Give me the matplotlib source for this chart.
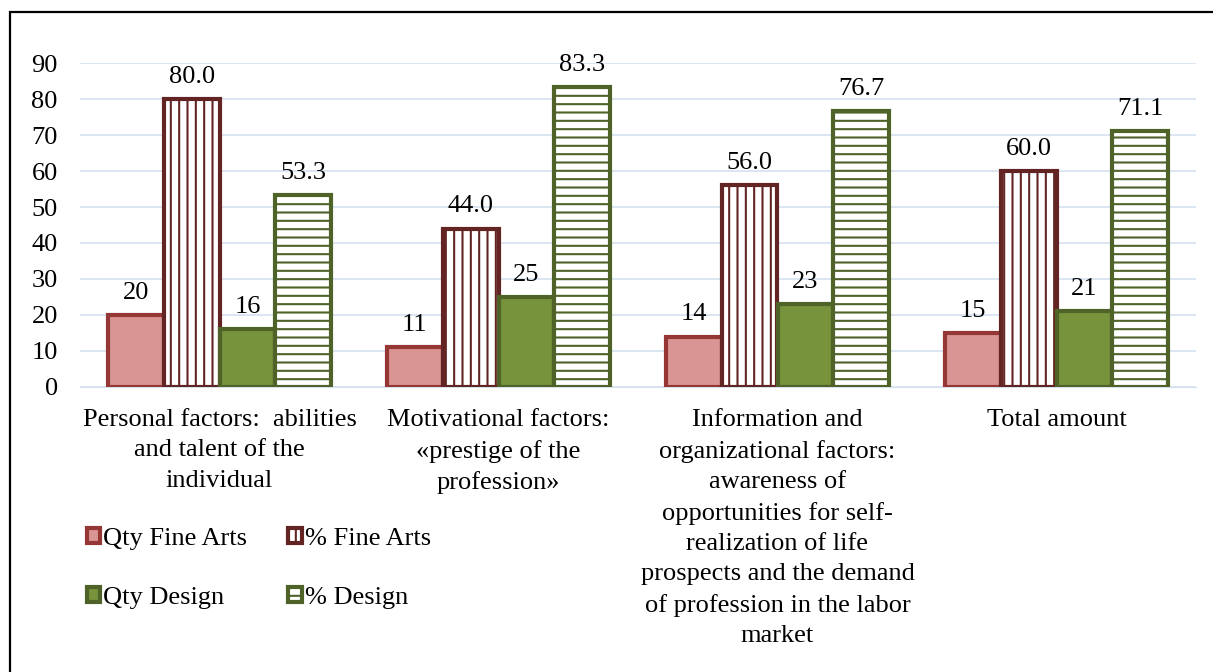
import numpy as np
import matplotlib
matplotlib.use("Agg")
import matplotlib.pyplot as plt
from matplotlib.patches import Rectangle

categories = [
    "Personal factors:  abilities\nand talent of the\nindividual",
    "Motivational factors:\n«prestige of the\nprofession»",
    "Information and\norganizational factors:\nawareness of\nopportunities for self-\nrealization of life\nprospects and the demand\nof profession in the labor\nmarket",
    "Total amount",
]
qty_fine_arts = [20, 11, 14, 15]
pct_fine_arts = [80.0, 44.0, 56.0, 60.0]
qty_design = [16, 25, 23, 21]
pct_design = [53.3, 83.3, 76.7, 71.1]
yticks = list(range(0, 91, 10))

plt.rcParams['font.family'] = ['Liberation Serif', 'DejaVu Serif']
plt.rcParams['font.size'] = 19
plt.rcParams['hatch.linewidth'] = 1.5

fig = plt.figure(figsize=(12.13, 6.72), dpi=100)
ax = fig.add_axes([80/1213, 1-387/672, (1196-80)/1213, (387-63)/672])

x = np.arange(len(categories))
w = 0.2
series = [
    (qty_fine_arts, "Qty Fine Arts", "#D99594", "#953735", None, "{:.0f}"),
    (pct_fine_arts, "% Fine Arts", "white", "#632523", "||", "{:.1f}"),
    (qty_design, "Qty Design", "#77933C", "#4F6228", None, "{:.0f}"),
    (pct_design, "% Design", "white", "#4F6228", "--", "{:.1f}"),
]
handles = []
for i, (vals, name, fc, ec, hatch, fmt) in enumerate(series):
    pos = x + (i - 1.5) * w
    bars = ax.bar(pos, vals, w, color=fc, edgecolor=ec, hatch=hatch,
                  linewidth=3, label=name, zorder=3)
    handles.append(bars)
    for xp, v in zip(pos, vals):
        ax.annotate(fmt.format(v), (xp, v), xytext=(0, 8), textcoords="offset points",
                    ha="center", va="bottom", fontsize=19)

ax.set_xlim(-0.5, 3.5)
ax.set_ylim(0, 90)
ax.set_yticks(yticks)
ax.set_xticks(x)
ax.set_xticklabels(categories, linespacing=1.48, va="top")
ax.tick_params(axis="both", length=0, labelsize=19)
ax.tick_params(axis="x", pad=16)
ax.tick_params(axis="y", pad=16)
ax.grid(axis="y", color="#D6E1F0", linewidth=1.2, zorder=0)
for s in ["top", "right", "left"]:
    ax.spines[s].set_visible(False)
ax.spines["bottom"].set_color("#D6E1F0")

order = [0, 2, 1, 3]
leg = fig.legend([handles[i] for i in order], [series[i][1] for i in order],
                 ncol=2, loc="upper left", bbox_to_anchor=(66/1213, 1-507/672),
                 frameon=False, fontsize=19, handlelength=0.5, handleheight=0.5,
                 handletextpad=0.12, columnspacing=1.55, labelspacing=1.4,
                 borderpad=0.3)

fig.patches.append(Rectangle((10/1213, -0.1), 1.2, 1.1 - 12/672, transform=fig.transFigure,
                             fill=False, edgecolor="black", linewidth=1.6))

fig.savefig("out.png", dpi=100)
